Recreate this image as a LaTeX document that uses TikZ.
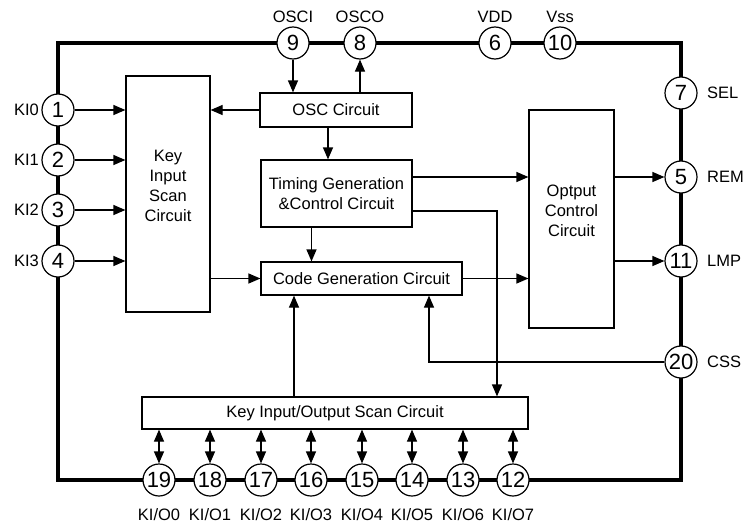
\documentclass[tikz,border=0pt]{standalone}
\usepackage{fontspec}
\setmainfont{Liberation Sans}
\usetikzlibrary{arrows.meta}
\begin{document}
\begin{tikzpicture}[x=1pt,y=-1pt,
  box/.style={draw, line width=1.2pt, inner sep=0pt, align=center, font=\fontsize{16.5}{20}\selectfont},
  pin/.style={draw, circle, line width=1.2pt, fill=white, minimum size=32pt, inner sep=0pt, font=\fontsize{22}{22}\selectfont},
  lbl/.style={inner sep=0pt, align=center, font=\fontsize{16.5}{20}\selectfont},
  conn/.style={line width=1.2pt, -{Triangle[length=12pt,width=10pt]}},
  bidir/.style={line width=1.2pt, {Triangle[length=12pt,width=10pt]}-{Triangle[length=12pt,width=10pt]}},
  frame/.style={line width=4pt}]
\useasboundingbox (0,0) rectangle (744,525);
% outer frame
\draw[frame] (58,43) rectangle (681,480);
% boxes
\node[box, minimum width=152pt, minimum height=34pt] (osc) at (336,110) {OSC Circuit};
\node[box, minimum width=151pt, minimum height=67pt] (tim) at (336.5,193.5) {Timing Generation\\\&Control Circuit};
\node[box, minimum width=201pt, minimum height=33pt] (code) at (361.5,278.5) {Code Generation Circuit};
\node[box, minimum width=84pt, minimum height=236pt] (key) at (168,194) {};
\node[lbl] (keytxt) at (168,186) {Key\\Input\\Scan\\Circuit};
\node[box, minimum width=85pt, minimum height=218pt] (opt) at (571.5,219) {};
\node[lbl] (opttxt) at (571.5,211) {Optput\\Control\\Circuit};
\node[box, minimum width=386pt, minimum height=32pt] (keyio) at (335,413) {Key Input/Output Scan Circuit};
% pins top
\node[pin] (p9) at (293,43) {9};
\node[pin] (p8) at (360,43) {8};
\node[pin] (p6) at (495,43) {6};
\node[pin] (p10) at (560,43) {10};
\node[lbl] (l9) at (293,17) {OSCI};
\node[lbl] (l8) at (360,17) {OSCO};
\node[lbl] (l6) at (495,17) {VDD};
\node[lbl] (l10) at (560,17) {Vss};
% pins left
\node[pin] (p1) at (58,110) {1};
\node[pin] (p2) at (58,160) {2};
\node[pin] (p3) at (58,210) {3};
\node[pin] (p4) at (58,261) {4};
\node[lbl, anchor=east] (l1) at (39,110) {KI0};
\node[lbl, anchor=east] (l2) at (39,160) {KI1};
\node[lbl, anchor=east] (l3) at (39,210) {KI2};
\node[lbl, anchor=east] (l4) at (39,261) {KI3};
% pins right
\node[pin] (p7) at (681,93) {7};
\node[pin] (p5) at (681,177) {5};
\node[pin] (p11) at (681,261) {11};
\node[pin] (p20) at (681,362) {20};
\node[lbl, anchor=west] (l7) at (707,93) {SEL};
\node[lbl, anchor=west] (l5) at (707,177) {REM};
\node[lbl, anchor=west] (l11) at (707,261) {LMP};
\node[lbl, anchor=west] (l20) at (707,362) {CSS};
% pins bottom
\foreach \n/\x/\t in {19/159/KI\slash O0,18/210/KI\slash O1,17/261/KI\slash O2,16/311/KI\slash O3,15/362/KI\slash O4,14/412/KI\slash O5,13/463/KI\slash O6,12/513/KI\slash O7}{
  \node[pin] (p\n) at (\x,480) {\n};
  \node[lbl] (l\n) at (\x,515) {\t};
  \draw[bidir] (p\n) -- (p\n |- keyio.south);
}
% connectors
\draw[conn] (p9) -- (p9 |- osc.north);
\draw[conn] (p8 |- osc.north) -- (p8);
\draw[conn] (osc.west) -- (key.east |- osc.west);
\draw[conn] ([xshift=-8pt]osc.south) -- ([xshift=-8pt]osc.south |- tim.north);
\foreach \p in {p1,p2,p3,p4}{
  \draw[conn] (\p) -- (\p -| key.west);
}
\draw[conn] (key.east |- code.west) -- (code.west);
\draw[conn] ([xshift=-25pt]tim.south) -- ([xshift=-25pt]tim.south |- code.north);
\draw[conn] (tim.east |- p5) -- (opt.west |- p5);
\draw[conn] (code.east) -- (opt.west |- code.east);
\draw[conn] (opt.east |- p5) -- (p5);
\draw[conn] (opt.east |- p11) -- (p11);
\draw[conn] ([yshift=-17.5pt]tim.east) -| ([xshift=162pt]keyio.north);
\draw[conn] ([xshift=-41pt]keyio.north) -- ([xshift=-41pt]keyio.north |- code.south);
\draw[conn] (p20) -| ([xshift=67.5pt]code.south);
\end{tikzpicture}
\end{document}
